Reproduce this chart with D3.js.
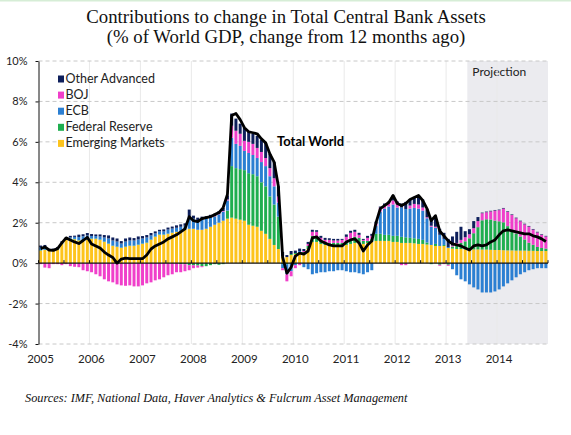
<!DOCTYPE html>
<html>
<head>
<meta charset="utf-8">
<script src="https://cdnjs.cloudflare.com/ajax/libs/d3/7.8.5/d3.min.js"></script>
<style>
  body { margin: 0; background: #fff; }
  svg { display: block; }
</style>
</head>
<body>
<div class="chart"></div>
<script>
const years = ['2005', '2006', '2007', '2008', '2009', '2010', '2011', '2012', '2013', '2014'];
const yTicks = [-4, -2, 0, 2, 4, 6, 8, 10];
const projectionStart = '2013-6';

const seriesNames = ['Emerging Markets', 'Federal Reserve', 'ECB', 'BOJ', 'Other Advanced'];
const seriesColors = ['#fdc41c', '#1fae4f', '#2b7fd2', '#f03fca', '#0e1f5b'];

// % of world GDP, one value per month, 2005-01 .. 2014-12
const emergingMarkets = [
  0.62, 0.65, 0.60, 0.60, 0.68, 0.95, 1.15, 1.20, 1.18, 1.12, 1.10, 1.15,
  1.20, 1.20, 1.15, 1.05, 0.95, 0.85, 0.80, 0.75, 0.80, 0.85, 0.85, 0.90,
  0.95, 1.00, 1.15, 1.30, 1.40, 1.40, 1.45, 1.50, 1.55, 1.60, 1.65, 1.70,
  1.70, 1.65, 1.65, 1.70, 1.80, 1.90, 2.00, 2.10, 2.20, 2.25, 2.20, 2.15,
  2.10, 1.90, 1.85, 1.80, 1.60, 1.45, 1.20, 0.90, 0.70, 0.35, 0.30, 0.40,
  0.45, 0.50, 0.50, 0.70, 1.05, 1.05, 0.95, 0.90, 0.88, 0.88, 0.85, 0.85,
  0.90, 0.95, 1.00, 1.00, 0.95, 1.00, 1.05, 1.10, 1.10, 1.10, 1.10, 1.05,
  1.05, 1.00, 1.00, 1.00, 0.98, 0.95, 0.95, 0.92, 0.90, 0.85, 0.85, 0.85,
  0.75, 0.72, 0.70, 0.70, 0.68, 0.68, 0.68, 0.68, 0.67, 0.67, 0.66, 0.65,
  0.65, 0.64, 0.63, 0.63, 0.62, 0.62, 0.62, 0.61, 0.61, 0.60, 0.60, 0.60
];
const federalReserve = [
  0.02, 0.02, 0.03, 0.02, 0.02, 0.03, 0.03, 0.02, 0.02, 0.02, 0.03, 0.02,
  0.02, 0.02, 0.02, 0.02, 0.02, 0.02, 0.02, 0.02, 0.02, 0.02, 0.02, 0.02,
  0.02, 0.02, 0.02, 0.02, 0.02, 0.02, 0.01, 0.01, 0.00, -0.05, -0.05, -0.10,
  -0.10, -0.12, -0.15, -0.15, -0.10, -0.05, -0.08, -0.05, 0.40, 2.55, 2.50, 2.50,
  2.50, 2.55, 2.55, 2.50, 2.40, 2.35, 2.10, 2.00, 1.60, -0.05, -0.05, 0.05,
  0.05, 0.05, 0.05, 0.15, 0.30, 0.25, 0.15, 0.10, 0.12, 0.12, 0.15, 0.15,
  0.20, 0.25, 0.30, 0.25, 0.15, 0.10, 0.15, 0.35, 0.35, 0.30, 0.30, 0.30,
  0.30, 0.30, 0.28, 0.25, 0.25, 0.25, 0.20, 0.10, -0.05, 0.10, -0.08, 0.05,
  -0.08, 0.10, 0.20, 0.30, 0.40, 0.55, 0.80, 1.10, 1.45, 1.50, 1.50, 1.45,
  1.42, 1.38, 1.20, 1.00, 0.85, 0.70, 0.55, 0.40, 0.30, 0.20, 0.15, 0.12
];
const ecb = [
  0.15, 0.15, 0.05, 0.05, 0.05, 0.05, 0.03, 0.05, 0.10, 0.15, 0.20, 0.20,
  0.12, 0.12, 0.15, 0.20, 0.25, 0.25, 0.25, 0.20, 0.25, 0.25, 0.25, 0.25,
  0.25, 0.25, 0.20, 0.15, 0.15, 0.15, 0.20, 0.20, 0.20, 0.20, 0.20, 0.55,
  0.50, 0.45, 0.50, 0.50, 0.45, 0.40, 0.40, 0.45, 0.50, 1.40, 1.20, 1.15,
  0.95, 1.00, 0.95, 0.90, 1.00, 1.00, 1.00, 0.90, 0.70, -0.20, -0.50, -0.40,
  -0.10, 0.05, -0.20, -0.30, -0.55, -0.50, -0.45, -0.45, -0.40, -0.40, -0.35, -0.35,
  -0.40, -0.45, -0.45, -0.50, -0.55, -0.45, -0.35, 0.40, 1.10, 1.30, 1.40, 1.55,
  1.40, 1.45, 1.40, 1.45, 1.50, 1.50, 1.45, 1.20, 0.90, 0.80, 0.55, 0.30,
  0.05, -0.30, -0.60, -0.80, -0.90, -1.05, -1.20, -1.30, -1.45, -1.45, -1.45, -1.40,
  -1.30, -1.15, -1.00, -0.85, -0.70, -0.55, -0.45, -0.35, -0.30, -0.25, -0.25, -0.25
];
const boj = [
  -0.05, -0.22, -0.25, -0.05, -0.05, -0.10, -0.05, -0.15, -0.18, -0.20, -0.35, -0.40,
  -0.45, -0.55, -0.65, -0.80, -0.90, -0.95, -1.05, -1.10, -1.12, -1.10, -1.15, -1.15,
  -1.10, -1.00, -0.95, -0.85, -0.80, -0.70, -0.60, -0.55, -0.45, -0.40, -0.35, -0.25,
  -0.15, -0.10, -0.05, 0.00, 0.02, 0.02, 0.02, 0.03, 0.05, 0.60, 0.65, 0.60,
  0.50, 0.55, 0.55, 0.50, 0.50, 0.40, 0.40, 0.40, 0.30, -0.10, -0.35, -0.25,
  -0.15, -0.10, 0.05, 0.10, 0.20, 0.25, 0.15, 0.15, 0.15, 0.12, 0.12, 0.15,
  0.20, 0.30, 0.25, 0.15, 0.05, 0.15, 0.15, 0.10, 0.20, 0.15, 0.20, 0.20,
  0.15, -0.10, -0.10, 0.15, 0.20, 0.20, 0.15, 0.05, 0.05, 0.05, -0.05, -0.05,
  -0.05, 0.05, 0.10, 0.15, 0.20, 0.20, 0.25, 0.30, 0.35, 0.35, 0.40, 0.50,
  0.55, 0.68, 0.70, 0.75, 0.75, 0.75, 0.75, 0.80, 0.75, 0.72, 0.65, 0.60
];
const otherAdvanced = [
  0.08, 0.08, 0.03, 0.05, 0.05, 0.05, 0.05, 0.08, 0.06, 0.12, 0.10, 0.12,
  0.10, 0.08, 0.10, 0.12, 0.15, 0.15, 0.15, 0.12, 0.15, 0.15, 0.12, 0.15,
  0.12, 0.12, 0.12, 0.10, 0.08, 0.10, 0.10, 0.10, 0.12, 0.12, 0.12, 0.40,
  0.15, 0.15, 0.15, 0.12, 0.12, 0.12, 0.15, 0.15, 0.20, 0.60, 0.60, 0.50,
  0.65, 0.50, 0.50, 0.60, 0.60, 0.75, 0.70, 0.80, 0.50, 0.20, 0.10, 0.15,
  0.12, 0.12, 0.10, 0.10, 0.10, 0.08, 0.10, 0.10, 0.08, 0.08, 0.08, 0.05,
  0.12, 0.10, 0.10, 0.10, 0.05, 0.10, 0.10, 0.10, 0.05, 0.10, 0.05, 0.25,
  0.15, 0.20, 0.35, 0.30, 0.35, 0.40, 0.40, 0.40, 0.35, 0.50, 0.30, 0.30,
  0.40, 0.45, 0.55, 0.65, 0.30, 0.25, 0.35, 0.20, 0.03, 0.03, 0.03, 0.03,
  0.03, 0.03, 0.03, 0.03, 0.03, 0.03, 0.03, 0.03, 0.03, 0.03, 0.03, 0.03
];
const totalWorld = [
  0.72, 0.80, 0.65, 0.63, 0.72, 1.00, 1.25, 1.15, 1.05, 0.97, 1.12, 1.28,
  0.95, 0.85, 0.75, 0.55, 0.40, 0.28, 0.00, 0.20, 0.25, 0.22, 0.22, 0.22,
  0.22, 0.40, 0.70, 0.85, 0.95, 1.05, 1.20, 1.30, 1.40, 1.55, 1.70, 2.30,
  2.10, 2.05, 2.20, 2.25, 2.30, 2.40, 2.50, 2.75, 3.40, 7.30, 7.40, 7.10,
  6.70, 6.50, 6.45, 6.40, 6.15, 5.95, 5.40, 5.00, 3.80, 0.30, -0.50, -0.20,
  0.35, 0.50, 0.45, 0.60, 1.25, 1.30, 1.10, 1.00, 0.90, 0.85, 0.85, 0.85,
  1.05, 1.15, 1.20, 1.00, 0.60, 0.90, 1.10, 2.00, 2.70, 2.85, 3.00, 3.35,
  2.95, 2.85, 2.95, 3.15, 3.25, 3.35, 3.10, 2.70, 2.10, 2.35, 1.60, 1.35,
  1.10, 0.95, 0.90, 0.85, 0.75, 0.65, 0.85, 0.90, 0.85, 0.90, 1.05, 1.15,
  1.40, 1.60, 1.65, 1.60, 1.55, 1.50, 1.45, 1.45, 1.35, 1.30, 1.20, 1.07
];

const months = years.flatMap(y => d3.range(12).map(m => `${y}-${m + 1}`));
const seriesValues = [emergingMarkets, federalReserve, ecb, boj, otherAdvanced];

const rows = months.map((month, i) => {
  const row = { month };
  seriesNames.forEach((name, s) => { row[name] = seriesValues[s][i]; });
  return row;
});

const chartWidth = 571;
const chartHeight = 435;
const plot = { left: 38.5, right: 548, top: 61, bottom: 344 };

const svg = d3.select('.chart')
  .append('svg')
  .attr('width', chartWidth)
  .attr('height', chartHeight);

svg.append('rect')
  .attr('width', chartWidth)
  .attr('height', 1.5)
  .attr('fill', '#d6edd6');

const x = d3.scaleBand()
  .domain(months)
  .range([plot.left, plot.right])
  .paddingInner(0.3)
  .paddingOuter(0.15);

// continuous month index, for gridlines / ticks / shading edges
const monthPos = d3.scaleLinear()
  .domain([0, months.length])
  .range([plot.left, plot.right]);

const y = d3.scaleLinear()
  .domain([-4, 10])
  .range([plot.bottom, plot.top]);

// projection shading
svg.append('rect')
  .attr('x', monthPos(months.indexOf(projectionStart)))
  .attr('y', y(10))
  .attr('width', monthPos(months.length) - monthPos(months.indexOf(projectionStart)))
  .attr('height', y(-4) - y(10))
  .attr('fill', '#ebebef');

svg.append('text')
  .attr('x', monthPos(months.indexOf(projectionStart)) + 5)
  .attr('y', 76)
  .attr('font-family', 'Lato, sans-serif')
  .attr('font-size', '12px')
  .attr('fill', '#222')
  .text('Projection');

// vertical year gridlines
svg.append('g')
  .selectAll('line')
  .data(d3.range(1, years.length))
  .enter()
  .append('line')
  .attr('x1', k => monthPos(k * 12))
  .attr('x2', k => monthPos(k * 12))
  .attr('y1', y(10))
  .attr('y2', y(-4))
  .attr('stroke', '#e9e9e9')
  .attr('stroke-width', 1);

// horizontal dashed gridlines
svg.append('g')
  .selectAll('line')
  .data(yTicks.filter(t => t !== 0))
  .enter()
  .append('line')
  .attr('x1', plot.left)
  .attr('x2', plot.right)
  .attr('y1', d => y(d))
  .attr('y2', d => y(d))
  .attr('stroke', '#c8c8c8')
  .attr('stroke-width', 1)
  .attr('stroke-dasharray', '4,3');

const stacked = d3.stack()
  .keys(seriesNames)
  .offset(d3.stackOffsetDiverging)(rows);

svg.append('g')
  .selectAll('g')
  .data(stacked)
  .enter()
  .append('g')
  .attr('fill', (d, i) => seriesColors[i])
  .selectAll('rect')
  .data(d => d)
  .enter()
  .append('rect')
  .attr('x', d => x(d.data.month))
  .attr('y', d => y(Math.max(d[0], d[1])))
  .attr('width', x.bandwidth())
  .attr('height', d => Math.abs(y(d[0]) - y(d[1])));

// zero axis with half-year ticks
svg.append('line')
  .attr('x1', plot.left)
  .attr('x2', plot.right)
  .attr('y1', y(0))
  .attr('y2', y(0))
  .attr('stroke', '#111')
  .attr('stroke-width', 1.3);

svg.append('g')
  .selectAll('line')
  .data(d3.range(0, months.length + 1, 6))
  .enter()
  .append('line')
  .attr('x1', d => monthPos(d))
  .attr('x2', d => monthPos(d))
  .attr('y1', y(0))
  .attr('y2', y(0) - 3)
  .attr('stroke', '#111')
  .attr('stroke-width', 1);

svg.append('g')
  .selectAll('text')
  .data(years)
  .enter()
  .append('text')
  .attr('x', (d, i) => monthPos(i * 12) + 2)
  .attr('y', 363)
  .attr('text-anchor', 'middle')
  .attr('font-family', 'Lato, sans-serif')
  .attr('font-size', '11.5px')
  .attr('fill', '#222')
  .text(d => d);

const yAxis = d3.axisLeft(y)
  .tickValues(yTicks)
  .tickSize(3)
  .tickSizeOuter(0)
  .tickPadding(8)
  .tickFormat(d => `${d}%`);

const yAxisElement = svg.append('g')
  .attr('transform', `translate(${plot.left}, 0)`)
  .call(yAxis);
yAxisElement.selectAll('text')
  .attr('font-family', 'Lato, sans-serif')
  .attr('font-size', '11px')
  .attr('fill', '#222');
yAxisElement.selectAll('path, line')
  .attr('stroke', '#111');

// Total World line
const line = d3.line()
  .x((d, i) => x(months[i]) + x.bandwidth() / 2)
  .y(d => y(d));

svg.append('path')
  .datum(totalWorld)
  .attr('d', line)
  .attr('fill', 'none')
  .attr('stroke', '#000')
  .attr('stroke-width', 2.8)
  .attr('stroke-linejoin', 'round');

svg.append('text')
  .attr('x', 277)
  .attr('y', 146)
  .attr('font-family', 'Lato, sans-serif')
  .attr('font-weight', 'bold')
  .attr('font-size', '13px')
  .attr('fill', '#000')
  .text('Total World');

// legend, top entry first
const legendItems = seriesNames.map((name, i) => ({ name, color: seriesColors[i] })).reverse();
const legend = svg.append('g')
  .selectAll('g')
  .data(legendItems)
  .enter()
  .append('g')
  .attr('transform', (d, i) => `translate(58, ${79 + i * 16.1})`);
legend.append('rect')
  .attr('x', 0)
  .attr('y', -3.5)
  .attr('width', 6)
  .attr('height', 7)
  .attr('fill', d => d.color);
legend.append('text')
  .attr('x', 7.5)
  .attr('y', 4)
  .attr('font-family', 'Lato, sans-serif')
  .attr('font-size', '12.5px')
  .attr('fill', '#222')
  .text(d => d.name);

// titles
const titleLines = [
  'Contributions to change in Total Central Bank Assets',
  '(% of World GDP, change from 12 months ago)'
];
svg.append('g')
  .selectAll('text')
  .data(titleLines)
  .enter()
  .append('text')
  .attr('x', 286)
  .attr('y', (d, i) => 23 + i * 19.5)
  .attr('text-anchor', 'middle')
  .attr('font-family', '"Liberation Serif", serif')
  .attr('font-size', '18.8px')
  .attr('fill', '#111')
  .text(d => d);

svg.append('text')
  .attr('x', 25)
  .attr('y', 402)
  .attr('font-family', '"Liberation Serif", serif')
  .attr('font-style', 'italic')
  .attr('font-size', '12.3px')
  .attr('fill', '#111')
  .text('Sources: IMF, National Data, Haver Analytics & Fulcrum Asset Management');
</script>
</body>
</html>
